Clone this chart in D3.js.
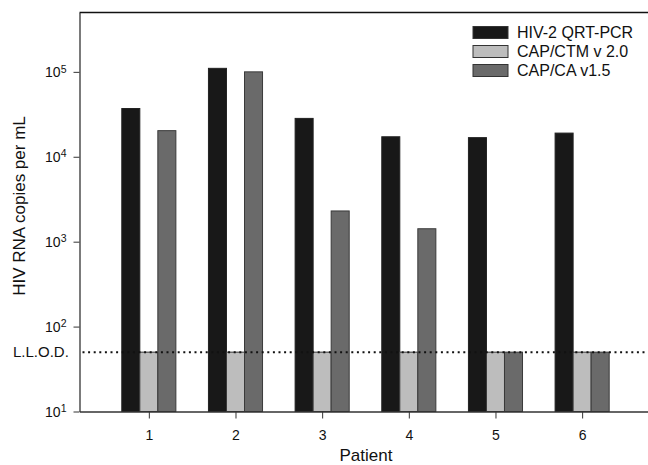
<!DOCTYPE html>
<html><head><meta charset="utf-8">
<script src="https://cdn.jsdelivr.net/npm/d3@7"></script>
<style>body{margin:0;background:#fff}svg{font-family:"Liberation Sans",Arial,sans-serif}</style>
</head><body><svg id="c" width="648" height="465"></svg>
<script>
const patients = [1, 2, 3, 4, 5, 6];
const seriesNames = ["HIV-2 QRT-PCR", "CAP/CTM v 2.0", "CAP/CA v1.5"];
const qrtpcr = [37000, 110000, 28300, 17200, 16800, 19000];
const ctm = [50, 50, 50, 50, 50, 50];
const ca = [20300, 100000, 2300, 1420, 50, 50];
const yTicks = [10, 100, 1000, 10000, 100000];
const llod = 50;
const colors = ["#181818", "#bdbdbd", "#6a6a6a"];

const svg = d3.select("#c");
const L = 79.5, R = 648, T = 12.5, B = 411.5;
const x = d3.scaleLinear().domain([0.2, 6.76]).range([L, R]);
const y = d3.scaleLog().domain([10, 5e5]).range([B, T]);
const series = [qrtpcr, ctm, ca];
const bw = (x(1) - x(0)) * 0.208;

// bars
series.forEach((s, si) => {
  svg.append("g").selectAll("rect").data(patients).join("rect")
    .attr("x", (p) => x(p) + (si - 1.5) * bw)
    .attr("width", bw)
    .attr("y", (p, i) => y(s[i]))
    .attr("height", (p, i) => B - y(s[i]))
    .attr("fill", colors[si])
    .attr("stroke", si === 0 ? "#222" : "#3a3a3a")
    .attr("stroke-width", 1);
});

// LLOD line
svg.append("line").attr("x1", L + 3).attr("x2", R).attr("y1", y(llod)).attr("y2", y(llod))
  .attr("stroke", "#111").attr("stroke-width", 2).attr("stroke-dasharray", "2,3.6");
svg.append("text").attr("x", 13).attr("y", y(llod) + 5).attr("font-size", 15).attr("fill", "#111").text("L.L.O.D.");

// frame top
svg.append("line").attr("x1", L).attr("x2", R).attr("y1", T).attr("y2", T).attr("stroke", "#111").attr("stroke-width", 1.3);

// y axis
const ya = svg.append("g").attr("transform", `translate(${L},0)`)
  .call(d3.axisLeft(y).tickValues(yTicks).tickSize(6).tickSizeOuter(0).tickFormat(""));
ya.select(".domain").attr("stroke", "#333").attr("stroke-width", 1.3);
ya.selectAll(".tick line").attr("stroke", "#333");
ya.selectAll(".tick").each(function(d) {
  const t = d3.select(this).append("text").attr("x", -13).attr("dy", "0.35em").attr("text-anchor", "end")
    .attr("font-size", 14).attr("fill", "#111");
  t.append("tspan").text("10");
  t.append("tspan").attr("dy", "-0.45em").attr("font-size", 10.5).text(Math.round(Math.log10(d)));
});

// x axis
const xa = svg.append("g").attr("transform", `translate(0,${B})`)
  .call(d3.axisBottom(x).tickValues(patients).tickFormat(d3.format("d")).tickSize(7).tickSizeOuter(0).tickPadding(12));
xa.select(".domain").attr("stroke", "#333").attr("stroke-width", 1.3);
xa.selectAll(".tick line").attr("stroke", "#333");
xa.selectAll(".tick text").attr("font-size", 14).attr("fill", "#111").attr("font-family", "Liberation Sans, Arial, sans-serif");

// axis titles
svg.append("text").attr("x", 366).attr("y", 461).attr("text-anchor", "middle").attr("font-size", 17).attr("fill", "#111").text("Patient");
svg.append("text").attr("transform", "translate(25,206) rotate(-90)").attr("text-anchor", "middle")
  .attr("font-size", 17).attr("fill", "#111").text("HIV RNA copies per mL");

// legend
const lg = svg.append("g");
seriesNames.forEach((n, i) => {
  const cy = 32.5 + i * 19;
  lg.append("rect").attr("x", 473).attr("y", cy - 6).attr("width", 35).attr("height", 12)
    .attr("fill", colors[i]).attr("stroke", "#333").attr("stroke-width", 1);
  lg.append("text").attr("x", 517).attr("y", cy + 5.5).attr("font-size", 16).attr("fill", "#111").text(n);
});
</script></body></html>
